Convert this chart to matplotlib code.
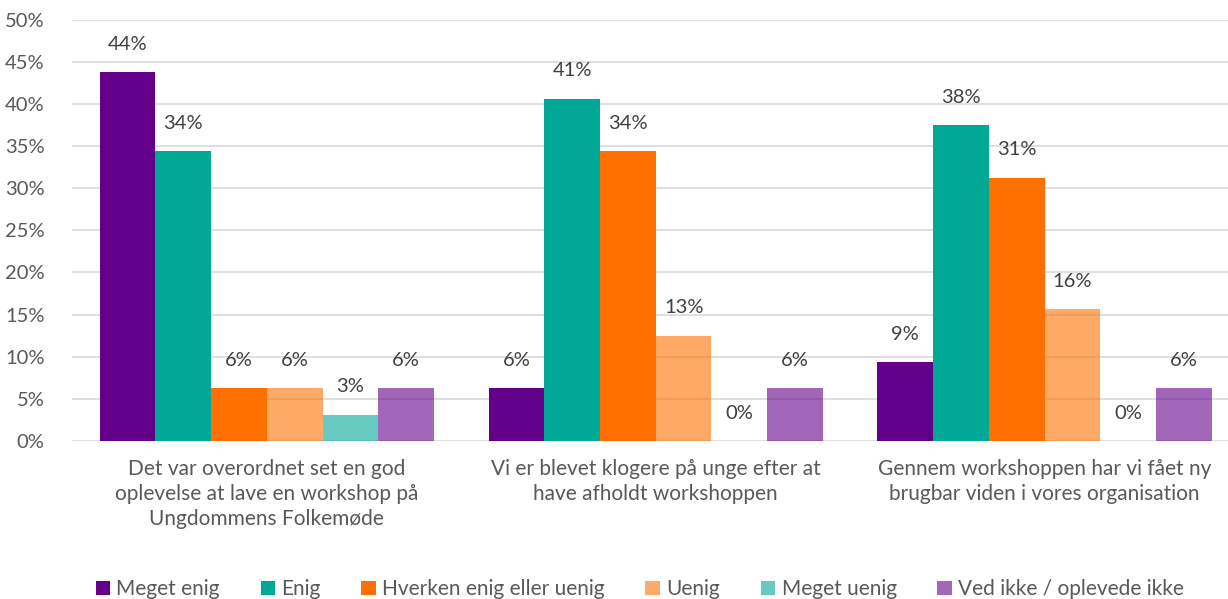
import matplotlib.pyplot as plt
import numpy as np

plt.rcParams['font.family'] = ['Lato', 'DejaVu Sans']

categories = [
    "Det var overordnet set en god\noplevelse at lave en workshop på\nUngdommens Folkemøde",
    "Vi er blevet klogere på unge efter at\nhave afholdt workshoppen",
    "Gennem workshoppen har vi fået ny\nbrugbar viden i vores organisation",
]
series_names = ["Meget enig", "Enig", "Hverken enig eller uenig", "Uenig",
                "Meget uenig", "Ved ikke / oplevede ikke"]
meget_enig = [43.75, 6.25, 9.375]
enig = [34.375, 40.625, 37.5]
hverken = [6.25, 34.375, 31.25]
uenig = [6.25, 12.5, 15.625]
meget_uenig = [3.125, 0, 0]
ved_ikke = [6.25, 6.25, 6.25]

colors = ["#620089", "#00A896", "#FF7000", "#FF7000", "#00A896", "#620089"]
alphas = [1, 1, 1, 0.6, 0.6, 0.6]
text_col = "#595959"

series = [meget_enig, enig, hverken, uenig, meget_uenig, ved_ikke]

fig = plt.figure(figsize=(12.28, 5.99), dpi=100)
ax = fig.add_axes([0.059, 0.264, 0.95, 0.703])

x = np.arange(len(categories))
w = 0.86 / 6
for i, (vals, name) in enumerate(zip(series, series_names)):
    pos = x - 0.43 + w * (i + 0.5)
    ax.bar(pos, vals, width=w, color=colors[i], alpha=alphas[i],
           label=name, zorder=2, linewidth=0)
    for p, v in zip(pos, vals):
        ax.annotate(f"{int(v + 0.5)}%", (p, v), xytext=(0, 20), textcoords="offset points",
                    ha="center", va="center", fontsize=14.5, color="#404040")

ax.set_ylim(0, 50)
ax.set_xlim(-0.5, 2.5)
ax.set_yticks(range(0, 51, 5))
ax.set_yticklabels([f"{t}%" for t in range(0, 51, 5)])
ax.yaxis.grid(True, color="#d9d9d9", linewidth=1.2, zorder=0)
ax.set_axisbelow(True)
ax.set_xticks(x)
ax.set_xticklabels(categories, fontsize=15, color=text_col, linespacing=1.3)
ax.tick_params(axis="y", length=0, labelsize=14.5, labelcolor=text_col, pad=20)
ax.tick_params(axis="x", length=0, pad=13)
for s in ax.spines.values():
    s.set_visible(False)

fig.legend(loc="lower center", bbox_to_anchor=(0.521, -0.032), ncol=6, frameon=False,
           fontsize=15, labelcolor=text_col, handlelength=0.7, handleheight=0.7,
           handletextpad=0.3, columnspacing=1.95)

fig.savefig("out.png", dpi=100)
